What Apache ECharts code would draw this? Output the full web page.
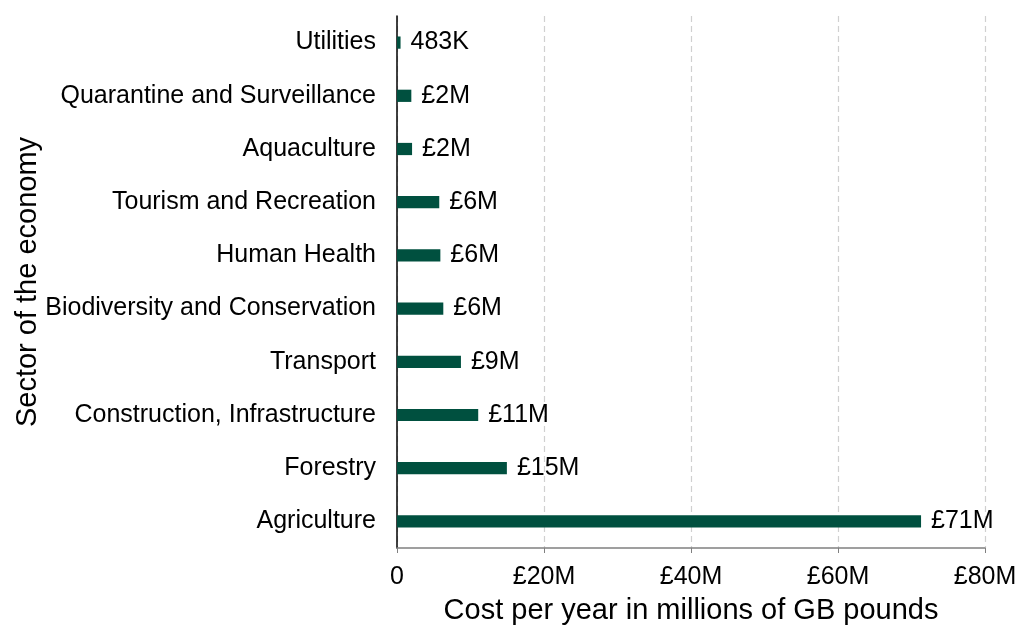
<!DOCTYPE html>
<html>
<head>
<meta charset="utf-8">
<script src="https://cdn.jsdelivr.net/npm/echarts@6/dist/echarts.min.js"></script>
<style>
  html, body { margin: 0; padding: 0; background: #fff; }
  #chart { width: 1019px; height: 628px; }
</style>
</head>
<body>
<div id="chart"></div>
<script>
// Annual cost by sector, in millions of GB pounds (bottom to top on the axis)
const sectors = [
  'Agriculture',
  'Forestry',
  'Construction, Infrastructure',
  'Transport',
  'Biodiversity and Conservation',
  'Human Health',
  'Tourism and Recreation',
  'Aquaculture',
  'Quarantine and Surveillance',
  'Utilities'
];
const costs = [71.3, 14.95, 11.05, 8.7, 6.3, 5.9, 5.75, 2.05, 1.95, 0.483];
const xTicks = [0, 20, 40, 60, 80];

const FONT = 'Liberation Sans, Arial, sans-serif';

function valueLabel(v) {
  if (v < 1) return Math.round(v * 1000) + 'K';
  return '£' + Math.round(v) + 'M';
}
function tickLabel(v) {
  return v === 0 ? '0' : '£' + v + 'M';
}

const chart = echarts.init(document.getElementById('chart'));
chart.setOption({
  animation: false,
  grid: {
    left: 397, right: 34, top: 16, bottom: 80,
    containLabel: false, outerBoundsMode: 'none'
  },
  xAxis: {
    type: 'value',
    min: xTicks[0],
    max: xTicks[xTicks.length - 1],
    interval: 20,
    name: 'Cost per year in millions of GB pounds',
    nameLocation: 'middle',
    nameGap: 48,
    nameMoveOverlap: false,
    nameTextStyle: { fontFamily: FONT, fontSize: 29, color: '#000' },
    axisLine: { show: true, lineStyle: { color: '#808080', width: 1.5 } },
    axisTick: { show: true, length: 5, lineStyle: { color: '#808080' } },
    axisLabel: {
      margin: 17, fontFamily: FONT, fontSize: 25, color: '#000',
      formatter: tickLabel
    },
    splitLine: {
      show: true,
      lineStyle: { color: '#d0d0d0', type: [6, 4], width: 1.2 }
    }
  },
  yAxis: {
    type: 'category',
    data: sectors,
    name: 'Sector of the economy',
    nameLocation: 'middle',
    nameGap: 355,
    nameMoveOverlap: false,
    nameTextStyle: { fontFamily: FONT, fontSize: 29, color: '#000' },
    axisLine: { show: true, onZero: false, lineStyle: { color: '#000', width: 1.5 } },
    axisTick: { show: false },
    axisLabel: { margin: 21, fontFamily: FONT, fontSize: 25, color: '#000' },
    splitLine: { show: false }
  },
  series: [{
    type: 'bar',
    data: costs,
    barWidth: '23%',
    itemStyle: { color: '#00503F' },
    label: {
      show: true,
      position: 'right',
      distance: 10,
      fontFamily: FONT,
      fontSize: 25,
      color: '#000',
      formatter: p => valueLabel(p.value)
    }
  }]
});
</script>
</body>
</html>
